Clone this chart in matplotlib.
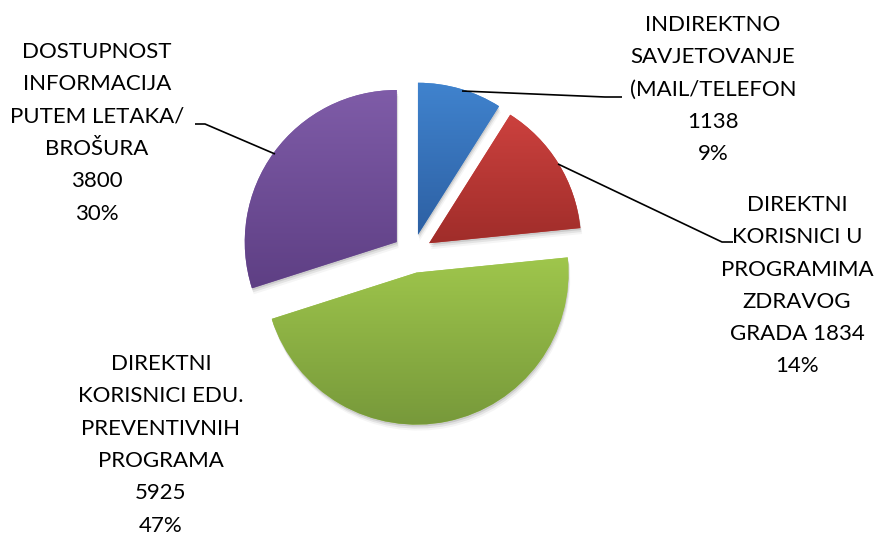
import numpy as np
import matplotlib
matplotlib.use("Agg")
import matplotlib.pyplot as plt
from matplotlib.colors import to_rgb

# data
values = [1138, 1834, 5925, 3800]
label_lines = [
    ["INDIREKTNO", "SAVJETOVANJE", "(MAIL/TELEFON", "1138", "9%"],
    ["DIREKTNI", "KORISNICI U", "PROGRAMIMA", "ZDRAVOG", "GRADA 1834", "14%"],
    ["DIREKTNI", "KORISNICI EDU.", "PREVENTIVNIH", "PROGRAMA", "5925", "47%"],
    ["DOSTUPNOST", "INFORMACIJA", "PUTEM LETAKA/", "BROŠURA", "3800", "30%"],
]
top_colors = ["#4083CE", "#CC413E", "#9FC64C", "#7F5CA8"]
bottom_colors = ["#2D60A3", "#A02D2A", "#76983A", "#5E3F84"]

plt.rcParams['font.family'] = ['Lato', 'DejaVu Sans']

fig = plt.figure(figsize=(8.86, 5.34), dpi=100)
ax = fig.add_axes([0, 0, 1, 1])

center = (412.5, 253.5)
radius = 152
explode = [19.5] * 4  # pie explode is in data units here

# soft shadow
for off, a in [(2, 0.10), (4, 0.07), (6, 0.04)]:
    ax.pie(values, radius=radius, center=(center[0] + off * 0.3, center[1] + off),
           explode=explode, startangle=-90, counterclock=True,
           colors=["#000000"] * 4, wedgeprops=dict(linewidth=0, alpha=a))

wedges, _ = ax.pie(values, radius=radius, center=center, explode=explode,
                   startangle=-90, counterclock=True, colors=top_colors,
                   wedgeprops=dict(linewidth=0))

# vertical gradient inside each slice
for w, c1, c2 in zip(wedges, top_colors, bottom_colors):
    path = w.get_path()
    verts = w.get_transform().transform(path.vertices)
    verts = ax.transData.inverted().transform(verts)
    x0, y0 = verts.min(axis=0)
    x1, y1 = verts.max(axis=0)
    t = np.linspace(0, 1, 256)[:, None]
    grad = (1 - t) * np.array(to_rgb(c1)) + t * np.array(to_rgb(c2))
    im = ax.imshow(grad[:, None, :], extent=(x0, x1, y1, y0), origin='upper',
                   aspect='auto', interpolation='bilinear', zorder=2)
    im.set_clip_path(w)

# leader lines
leaders = [
    ([462, 605, 622], [91, 97, 97]),
    ([558, 722, 733], [164, 242, 242]),
    ([275, 205, 195], [154, 124, 124]),
]
for xs, ys in leaders:
    ax.plot(xs, ys, color="black", lw=1.2, zorder=3, solid_capstyle='butt')

# labels
label_pos = [(713, 25), (797, 205), (161, 364), (97, 52)]
line_step = 32.3
for lines, (lx, ly) in zip(label_lines, label_pos):
    for i, s in enumerate(lines):
        ax.text(lx, ly + i * line_step, s, ha="center", va="center",
                fontsize=16, color="black", zorder=4)

ax.set_xlim(0, 886)
ax.set_ylim(534, 0)
ax.set_aspect('equal')
ax.axis('off')

fig.savefig("out.png", dpi=100)
